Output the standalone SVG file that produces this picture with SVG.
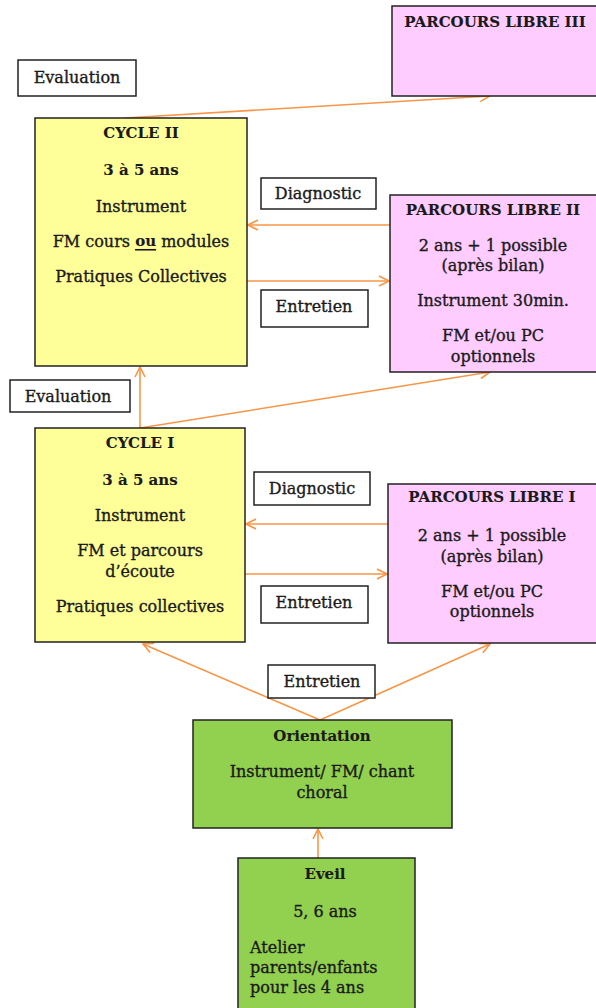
<svg xmlns="http://www.w3.org/2000/svg" width="596" height="1008" viewBox="0 0 596 1008">
<style>
text{font-family:"DejaVu Serif","Liberation Serif",serif;font-size:16px;fill:#1a1a1a;stroke:#1a1a1a;stroke-width:0.35;text-anchor:middle;dominant-baseline:central}
.b{font-weight:bold;font-size:15px;stroke-width:0.1}
.l{text-anchor:start}
.box{stroke:#222;stroke-width:1.5}
.lab{fill:#fff;stroke:#222;stroke-width:1.5}
.yel{fill:#FFFF99}
.pink{fill:#FFCCFF}
.grn{fill:#92D050}
.c{stroke:#F79646;stroke-width:1.6;fill:none;marker-end:url(#ah)}
</style>
<defs>
<marker id="ah" viewBox="0 0 12 12" refX="11" refY="6" markerWidth="12" markerHeight="12" markerUnits="userSpaceOnUse" orient="auto">
<path d="M1,1 L11,6 L1,11" fill="none" stroke="#F79646" stroke-width="1.6"/>
</marker>
</defs>
<g id="connectors">
<line class="c" x1="125" y1="118" x2="490" y2="96"/>
<line class="c" x1="390" y1="225" x2="248" y2="225"/>
<line class="c" x1="247" y1="281" x2="389" y2="281"/>
<line class="c" x1="140" y1="428" x2="140" y2="367"/>
<line class="c" x1="140" y1="428" x2="490" y2="372"/>
<line class="c" x1="388" y1="524" x2="246" y2="524"/>
<line class="c" x1="245" y1="574" x2="387" y2="574"/>
<line class="c" x1="320" y1="720" x2="143" y2="644"/>
<line class="c" x1="320" y1="720" x2="490" y2="644"/>
<line class="c" x1="318" y1="858" x2="318" y2="829"/>
</g>
<g id="parcours3">
<rect class="box pink" x="392" y="6" width="210" height="90"/>
<text class="b" x="495" y="22">PARCOURS LIBRE III</text>
</g>
<g id="eval1">
<rect class="lab" x="18" y="60" width="118" height="36"/>
<text x="77" y="77">Evaluation</text>
</g>
<g id="cycle2">
<rect class="box yel" x="35" y="118" width="212" height="248"/>
<text class="b" x="141" y="133">CYCLE II</text>
<text class="b" x="141" y="170">3 à 5 ans</text>
<text x="141" y="206">Instrument</text>
<text x="141" y="241">FM cours <tspan class="b" text-decoration="underline">ou</tspan> modules</text>
<text x="141" y="276">Pratiques Collectives</text>
</g>
<g id="diag1">
<rect class="lab" x="261" y="178" width="115" height="31"/>
<text x="318" y="193">Diagnostic</text>
</g>
<g id="parcours2">
<rect class="box pink" x="390" y="195" width="212" height="177"/>
<text class="b" x="493" y="210">PARCOURS LIBRE II</text>
<text x="493" y="245">2 ans + 1 possible</text>
<text x="493" y="265">(après bilan)</text>
<text x="493" y="300">Instrument 30min.</text>
<text x="493" y="335">FM et/ou PC</text>
<text x="493" y="356">optionnels</text>
</g>
<g id="entretien1">
<rect class="lab" x="261" y="290" width="107" height="37"/>
<text x="314" y="306">Entretien</text>
</g>
<g id="eval2">
<rect class="lab" x="10" y="380" width="120" height="32"/>
<text x="68" y="396">Evaluation</text>
</g>
<g id="cycle1">
<rect class="box yel" x="35" y="428" width="210" height="214"/>
<text class="b" x="140" y="443">CYCLE I</text>
<text class="b" x="140" y="480">3 à 5 ans</text>
<text x="140" y="515">Instrument</text>
<text x="140" y="550">FM et parcours</text>
<text x="140" y="571">d’écoute</text>
<text x="140" y="606">Pratiques collectives</text>
</g>
<g id="diag2">
<rect class="lab" x="254" y="472" width="116" height="33"/>
<text x="312" y="488">Diagnostic</text>
</g>
<g id="parcours1">
<rect class="box pink" x="388" y="484" width="214" height="159"/>
<text class="b" x="492" y="497">PARCOURS LIBRE I</text>
<text x="492" y="535">2 ans + 1 possible</text>
<text x="492" y="556">(après bilan)</text>
<text x="492" y="591">FM et/ou PC</text>
<text x="492" y="611">optionnels</text>
</g>
<g id="entretien2">
<rect class="lab" x="261" y="586" width="107" height="37"/>
<text x="314" y="602">Entretien</text>
</g>
<g id="entretien3">
<rect class="lab" x="268" y="665" width="107" height="33"/>
<text x="322" y="681">Entretien</text>
</g>
<g id="orientation">
<rect class="box grn" x="193" y="720" width="259" height="108"/>
<text class="b" x="322" y="736">Orientation</text>
<text x="322" y="771">Instrument/ FM/ chant</text>
<text x="322" y="792">choral</text>
</g>
<g id="eveil">
<rect class="box grn" x="238" y="858" width="177" height="160"/>
<text class="b" x="325" y="874">Eveil</text>
<text x="325" y="911">5, 6 ans</text>
<text class="l" x="250" y="947">Atelier</text>
<text class="l" x="250" y="967">parents/enfants</text>
<text class="l" x="250" y="987">pour les 4 ans</text>
</g>
</svg>
